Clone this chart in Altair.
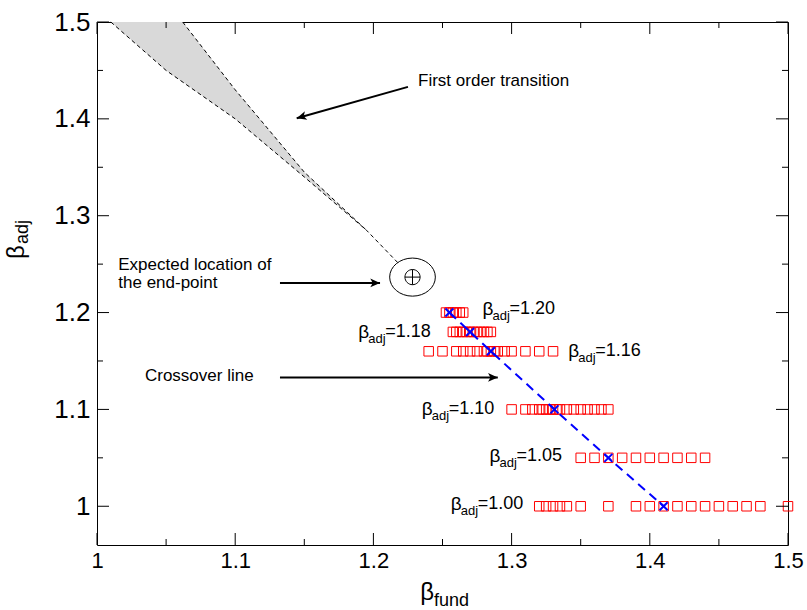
import math
import altair as alt
import pandas as pd

# ---------------- data ----------------
x_domain = [1.0, 1.5]
y_domain = [0.96, 1.5]

x_major = [1.0, 1.1, 1.2, 1.3, 1.4, 1.5]
x_minor = [1.05, 1.15, 1.25, 1.35, 1.45]
y_major = [1.0, 1.1, 1.2, 1.3, 1.4, 1.5]
y_minor = [1.05, 1.15, 1.25, 1.35, 1.45]

# measured points (red squares), one list per beta_adj row
row_120 = [1.2525, 1.255, 1.2575, 1.26, 1.2625, 1.265]
row_118 = [1.2575, 1.26, 1.2625, 1.265, 1.2675, 1.27, 1.2725, 1.275, 1.2775, 1.28, 1.2825, 1.285]
row_116 = [1.24, 1.25, 1.26, 1.265, 1.27, 1.275, 1.28, 1.2825, 1.285, 1.2875, 1.29, 1.295, 1.30,
           1.31, 1.32, 1.33]
row_110 = [1.30, 1.31, 1.315, 1.32, 1.3225, 1.325, 1.3275, 1.33, 1.3325, 1.335, 1.34, 1.345,
           1.35, 1.355, 1.36, 1.365, 1.37]
row_105 = [1.35, 1.36, 1.37, 1.38, 1.39, 1.40, 1.41, 1.42, 1.43, 1.44]
row_100 = [1.32, 1.325, 1.33, 1.335, 1.34, 1.35, 1.37, 1.39, 1.40, 1.41, 1.42, 1.43, 1.44,
           1.45, 1.46, 1.47, 1.48, 1.50]
rows = {1.20: row_120, 1.18: row_118, 1.16: row_116, 1.10: row_110, 1.05: row_105, 1.00: row_100}

# crossover points (blue crosses + dashed line)
cross_x = [1.255, 1.27, 1.285, 1.331, 1.37, 1.41]
cross_y = [1.20, 1.18, 1.16, 1.10, 1.05, 1.00]

# row labels
label_text = ["=1.20", "=1.18", "=1.16", "=1.10", "=1.05", "=1.00"]
label_x = [1.279, 1.189, 1.341, 1.235, 1.284, 1.256]
label_y = [1.204, 1.1797, 1.1598, 1.100, 1.052, 1.002]

# first order transition band boundaries
lower_x = [1.01, 1.05, 1.10, 1.15, 1.195, 1.218]
lower_y = [1.50, 1.45, 1.40, 1.34, 1.285, 1.251]
upper_x = [1.062, 1.10, 1.15, 1.195]
upper_y = [1.50, 1.43, 1.345, 1.285]

# expected end point
end_x = [1.2283]
end_y = [1.2366]

# annotations
note_text = ["First order transition", "Expected location of", " the end-point", "Crossover line"]
note_x = [1.2323, 1.0154, 1.0154, 1.0347]
note_y = [1.4392, 1.2495, 1.2306, 1.1343]

arrow_x1 = [1.225, 1.1324, 1.1324]
arrow_y1 = [1.433, 1.2306, 1.133]
arrow_x2 = [1.1445, 1.2048, 1.290]
arrow_y2 = [1.4007, 1.2306, 1.133]

# ---------------- layout ----------------
W, H = 691, 523
FONT = "Liberation Sans"

xs = alt.Scale(domain=x_domain, nice=False, zero=False)
ys = alt.Scale(domain=y_domain, nice=False, zero=False)
LBL = "datum.value == 1 ? '1' : format(datum.value, '.1f')"
x_axis = alt.Axis(values=x_major, ticks=False, tickSize=0, domain=False, grid=False, title=None,
                  labelFont=FONT, labelFontSize=22, labelPadding=5, labelColor="black",
                  labelFlush=False, labelOverlap=False, labelExpr=LBL)
y_axis = alt.Axis(values=y_major, ticks=False, tickSize=0, domain=False, grid=False, title=None,
                  labelFont=FONT, labelFontSize=26, labelPadding=7, labelColor="black",
                  labelFlush=False, labelOverlap=False, labelExpr=LBL)


def X(field="x"):
    return alt.X(f"{field}:Q", scale=xs, axis=x_axis)


def Y(field="y"):
    return alt.Y(f"{field}:Q", scale=ys, axis=y_axis)


# squares
sq = pd.DataFrame([{"x": v, "y": k} for k, lst in rows.items() for v in lst])
squares = alt.Chart(sq).mark_point(shape="square", size=90, filled=False, color="#ff0000",
                                   strokeWidth=1, opacity=1).encode(x=X(), y=Y())

cr = pd.DataFrame({"x": cross_x, "y": cross_y, "i": range(len(cross_x))})
cross_line = alt.Chart(cr).mark_line(color="#0000ff", strokeWidth=2, strokeDash=[9, 6]).encode(
    x=X(), y=Y(), order="i:Q")
crosses = alt.Chart(cr).mark_point(shape="M-1,-1L1,1M1,-1L-1,1", size=64, filled=False,
                                   color="#0000ff", strokeWidth=2, opacity=1).encode(x=X(), y=Y())

# band
poly = pd.DataFrame(
    [{"x": a, "y": b, "i": n} for n, (a, b) in enumerate(zip(lower_x[:-1], lower_y[:-1]))]
    + [{"x": a, "y": b, "i": 100 + n} for n, (a, b) in enumerate(zip(upper_x[::-1], upper_y[::-1]))]
)
band = alt.Chart(poly).mark_line(strokeOpacity=0).encode(
    x=X(), y=Y(), order="i:Q", fill=alt.value("#d9d9d9"))

bd = pd.DataFrame(
    [{"x": a, "y": b, "i": n, "s": "lower"} for n, (a, b) in enumerate(zip(lower_x, lower_y))]
    + [{"x": a, "y": b, "i": n, "s": "upper"} for n, (a, b) in enumerate(zip(upper_x, upper_y))]
)
bounds = alt.Chart(bd).mark_line(color="black", strokeWidth=1, strokeDash=[4, 3]).encode(
    x=X(), y=Y(), order="i:Q", detail="s:N")

# end point ellipse and circled plus
ep = pd.DataFrame({"x": end_x, "y": end_y})
ellipse = alt.Chart(ep).mark_point(
    shape="M-1.2,0A1.2,1,0,1,0,1.2,0A1.2,1,0,1,0,-1.2,0Z", size=1450, filled=False,
    color="black", strokeWidth=1, opacity=1).encode(x=X(), y=Y())
oplus = alt.Chart(ep).mark_point(
    shape="M-1,0A1,1,0,1,0,1,0A1,1,0,1,0,-1,0ZM-1,0L1,0M0,-1L0,1", size=230, filled=False,
    color="black", strokeWidth=1, opacity=1).encode(x=X(), y=Y())

# annotations
nt = pd.DataFrame({"x": note_x, "y": note_y, "t": note_text})
notes = alt.Chart(nt).mark_text(align="left", baseline="middle", font=FONT, fontSize=17,
                                color="black").encode(x=X(), y=Y(), text="t:N")

ar = pd.DataFrame({"x": arrow_x1, "y": arrow_y1, "x2": arrow_x2, "y2": arrow_y2})
px_per_x = W / (x_domain[1] - x_domain[0])
px_per_y = H / (y_domain[1] - y_domain[0])
ar["ang"] = [
    (math.degrees(math.atan2(-(b2 - b1) * px_per_y, (a2 - a1) * px_per_x)) + 360) % 360
    for a1, b1, a2, b2 in zip(arrow_x1, arrow_y1, arrow_x2, arrow_y2)
]
arrow_lines = alt.Chart(ar).mark_rule(color="black", strokeWidth=2).encode(
    x=X(), y=Y(), x2="x2:Q", y2="y2:Q")
arrow_heads = alt.Chart(ar).mark_point(
    shape="M0,0L-1,-0.45L-0.75,0L-1,0.45Z", size=380, filled=True, color="black",
    opacity=1).encode(x=X("x2"), y=Y("y2"), angle=alt.Angle("ang:Q", scale=None))

# row labels: beta_adj=value
lb = pd.DataFrame({"x": label_x, "y": label_y, "t": label_text})
lab_beta = alt.Chart(lb).mark_text(text="β", align="left", baseline="middle", font=FONT,
                                   fontSize=19, color="black").encode(x=X(), y=Y())
lab_sub = alt.Chart(lb).mark_text(text="adj", align="left", baseline="middle", font=FONT,
                                  fontSize=13, dx=10, dy=7, color="black").encode(x=X(), y=Y())
lab_val = alt.Chart(lb).mark_text(align="left", baseline="middle", font=FONT, fontSize=18,
                                  dx=27, color="black").encode(x=X(), y=Y(), text="t:N")

# ticks (inward) on all four sides
tx_major = pd.DataFrame({"v": x_major})
tx_minor = pd.DataFrame({"v": x_minor})
ty_major = pd.DataFrame({"v": y_major})
ty_minor = pd.DataFrame({"v": y_minor})


def xticks(df, length):
    bottom = alt.Chart(df).mark_rule(color="black", strokeWidth=1).encode(
        x=X("v"), y=alt.value(H), y2=alt.value(H - length))
    top = alt.Chart(df).mark_rule(color="black", strokeWidth=1).encode(
        x=X("v"), y=alt.value(0), y2=alt.value(length))
    return bottom + top


def yticks(df, length):
    left = alt.Chart(df).mark_rule(color="black", strokeWidth=1).encode(
        y=Y("v"), x=alt.value(0), x2=alt.value(length))
    right = alt.Chart(df).mark_rule(color="black", strokeWidth=1).encode(
        y=Y("v"), x=alt.value(W), x2=alt.value(W - length))
    return left + right


ticks = xticks(tx_major, 12) + xticks(tx_minor, 6) + yticks(ty_major, 12) + yticks(ty_minor, 6)

# axis titles with subscripts
one = pd.DataFrame({"a": [0]})
xt_beta = alt.Chart(one).mark_text(text="β", align="right", baseline="middle", font=FONT,
                                   fontSize=24, color="black").encode(
    x=alt.value(337), y=alt.value(571))
xt_sub = alt.Chart(one).mark_text(text="fund", align="left", baseline="middle", font=FONT,
                                  fontSize=18, color="black").encode(
    x=alt.value(337), y=alt.value(579))
yt_beta = alt.Chart(one).mark_text(text="β", align="center", baseline="middle", font=FONT,
                                   fontSize=24, angle=270, color="black").encode(
    x=alt.value(-80), y=alt.value(230))
yt_sub = alt.Chart(one).mark_text(text="adj", align="center", baseline="middle", font=FONT,
                                  fontSize=18, angle=270, color="black").encode(
    x=alt.value(-74), y=alt.value(210))

chart = alt.layer(
    band, bounds, ellipse, oplus, squares, cross_line, crosses, notes, arrow_lines, arrow_heads,
    lab_beta, lab_sub, lab_val, ticks, xt_beta, xt_sub, yt_beta, yt_sub,
).properties(
    width=W, height=H,
    autosize=alt.AutoSizeParams(type="none"),
    padding={"left": 97, "top": 22, "right": 19, "bottom": 65},
    background="white",
).configure_view(stroke="black", strokeWidth=1)

chart.save("out.html", embed_options={"renderer": "svg", "actions": False})
